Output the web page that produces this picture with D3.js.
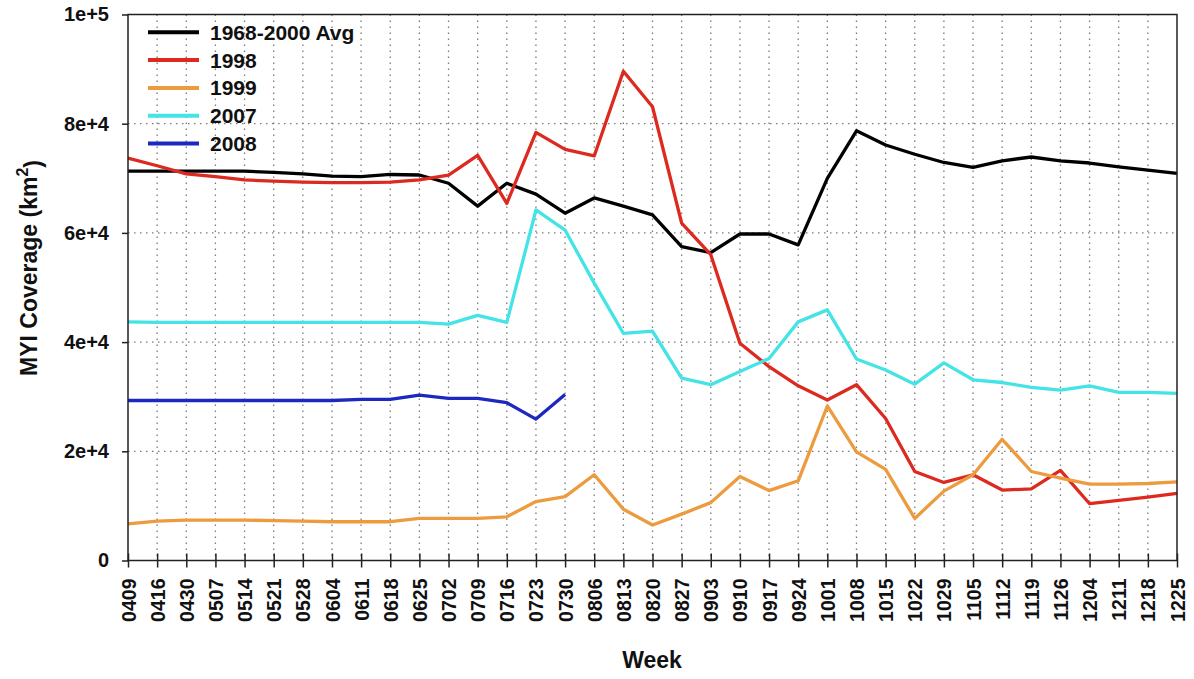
<!DOCTYPE html>
<html>
<head>
<meta charset="utf-8">
<script src="https://cdn.jsdelivr.net/npm/d3@7"></script>
<style>
  html, body { margin: 0; padding: 0; background: #fff; }
  svg { display: block; }
  text { font-family: "Liberation Sans", Arial, sans-serif; font-weight: bold; fill: #111; }
</style>
</head>
<body>
<svg id="chart" width="1194" height="679"></svg>
<script>
// Weekly multi-year ice coverage (km²)
const weeks = ["0409","0416","0430","0507","0514","0521","0528","0604","0611","0618",
  "0625","0702","0709","0716","0723","0730","0806","0813","0820","0827","0903","0910",
  "0917","0924","1001","1008","1015","1022","1029","1105","1112","1119","1126","1204",
  "1211","1218","1225"];

const avg6800 = [71300,71300,71300,71300,71300,71100,70800,70400,70300,70700,
  70600,69100,64900,69100,67100,63600,66400,64900,63300,57500,56400,59800,
  59800,57800,70000,78700,76100,74400,72900,72000,73200,73900,73200,72800,
  72100,71500,70900];

const y1998 = [73700,72300,70800,70300,69700,69500,69300,69200,69200,69300,
  69700,70600,74200,65400,78400,75300,74100,89600,83100,61800,56000,39800,
  35500,32000,29400,32200,26000,16300,14300,15700,12900,13100,16500,10400,
  11000,11600,12300];

const y1999 = [6700,7200,7400,7400,7400,7300,7200,7100,7100,7100,
  7700,7700,7700,8000,10800,11700,15700,9400,6500,8500,10600,15400,
  12800,14600,28300,19900,16700,7700,12700,15700,22200,16300,15100,14000,
  14000,14100,14400];

const y2007 = [43700,43600,43600,43600,43600,43600,43600,43600,43600,43600,
  43600,43300,44900,43600,64200,60500,50800,41600,42000,33400,32200,34600,
  37000,43700,45900,36900,34900,32300,36200,33100,32600,31700,31200,32000,
  30800,30800,30600];

// 2008 record stops after 0730
const y2008 = [29300,29300,29300,29300,29300,29300,29300,29300,29500,29500,
  30300,29700,29700,28900,25900,30400];

const seriesNames = ["1968-2000 Avg","1998","1999","2007","2008"];
const seriesColors = ["#000000","#dc2a20","#ec9b3e","#44e3e6","#1c28c0"];
const seriesValues = [avg6800, y1998, y1999, y2007, y2008];

const yTicks = [0, 20000, 40000, 60000, 80000, 100000];

const svg = d3.select("#chart");
const plotL = 128, plotR = 1177, plotT = 14.5, plotB = 560.5;

const x = d3.scalePoint().domain(weeks).range([plotL, plotR]);
const y = d3.scaleLinear().domain([0, 100000]).range([plotB, plotT]);

// dotted grid
const grid = svg.append("g");
grid.selectAll("line.v").data(weeks.slice(1, -1)).join("line")
  .attr("class", "v")
  .attr("x1", d => x(d)).attr("x2", d => x(d))
  .attr("y1", plotT).attr("y2", plotB)
  .attr("stroke", "#7a7a7a").attr("stroke-width", 1.3)
  .attr("stroke-dasharray", "1.5,4.5");
grid.selectAll("line.h").data(yTicks.slice(1, -1)).join("line")
  .attr("class", "h")
  .attr("x1", plotL).attr("x2", plotR)
  .attr("y1", d => y(d)).attr("y2", d => y(d))
  .attr("stroke", "#7a7a7a").attr("stroke-width", 1.3)
  .attr("stroke-dasharray", "1.5,4.5");

// series lines
const line = d3.line()
  .x((d, i) => x(weeks[i]))
  .y(d => y(d));

svg.append("g").selectAll("path").data(seriesValues).join("path")
  .attr("d", d => line(d))
  .attr("fill", "none")
  .attr("stroke", (d, i) => seriesColors[i])
  .attr("stroke-width", 3.3)
  .attr("stroke-linejoin", "round");

// frame
svg.append("rect")
  .attr("x", plotL).attr("y", plotT)
  .attr("width", plotR - plotL).attr("height", plotB - plotT)
  .attr("fill", "none").attr("stroke", "#222").attr("stroke-width", 1.5);

// y axis
const yAxis = svg.append("g")
  .attr("transform", `translate(${plotL},0)`)
  .call(d3.axisLeft(y).tickValues(yTicks).tickSizeOuter(0).tickSize(6).tickPadding(13)
    .tickFormat(d => d === 0 ? "0" : d3.format(".0e")(d)));
yAxis.select(".domain").remove();
yAxis.selectAll(".tick line").attr("stroke", "#222").attr("stroke-width", 1.5);
yAxis.selectAll(".tick text").style("font-size", "20px").attr("fill", "#111");

// x axis: ticks cross the baseline
const xAxis = svg.append("g")
  .attr("transform", `translate(0,${plotB})`)
  .call(d3.axisBottom(x).tickSizeOuter(0).tickSize(7));
xAxis.select(".domain").remove();
xAxis.selectAll(".tick line").attr("y1", -7).attr("stroke", "#222").attr("stroke-width", 1.5);
xAxis.selectAll(".tick text")
  .style("font-size", "19.5px").attr("fill", "#111")
  .attr("transform", "rotate(-90)")
  .attr("x", -18).attr("y", 0).attr("dy", "0.36em")
  .attr("text-anchor", "end");

// axis titles
svg.append("text")
  .attr("x", 652).attr("y", 668)
  .attr("text-anchor", "middle")
  .style("font-size", "23px")
  .text("Week");

const yt = svg.append("text")
  .attr("transform", "translate(37,268) rotate(-90)")
  .attr("text-anchor", "middle")
  .style("font-size", "23px");
yt.append("tspan").text("MYI Coverage (km");
yt.append("tspan").attr("dy", "-0.55em").style("font-size", "16px").text("2");
yt.append("tspan").attr("dy", "0.55em").text(")");

// legend
const legend = svg.append("g");
const rows = legend.selectAll("g").data(seriesNames).join("g")
  .attr("transform", (d, i) => `translate(148,${32.3 + i * 27.8})`);
rows.append("line")
  .attr("x1", 0).attr("x2", 51).attr("y1", 0).attr("y2", 0)
  .attr("stroke", (d, i) => seriesColors[i]).attr("stroke-width", 4);
rows.append("text")
  .attr("x", 62).attr("y", 0).attr("dy", "0.36em")
  .style("font-size", "21px")
  .text(d => d);
</script>
</body>
</html>
